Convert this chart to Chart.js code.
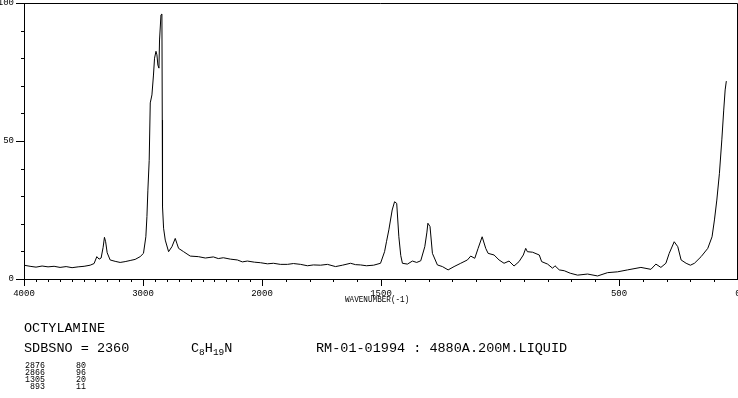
<!DOCTYPE html>
<html><head><meta charset="utf-8">
<script src="https://cdn.jsdelivr.net/npm/chart.js@4.4.0/dist/chart.umd.min.js"></script>
<style>
html,body{margin:0;padding:0;background:#fff;}
#wrap{position:relative;width:738px;height:398px;overflow:hidden;background:#fff;}
canvas{position:absolute;left:0;top:0;}
.t{position:absolute;font-family:"Liberation Mono","DejaVu Sans Mono",monospace;color:#000;white-space:pre;line-height:1;}
.t sub{font-size:70%;vertical-align:-3px;line-height:0;}
</style></head><body>
<div id="wrap">
<canvas id="c" width="738" height="398"></canvas>
<div class="t" style="left:345px;top:296px;font-size:8.5px;transform:scaleX(0.9);transform-origin:0 0">WAVENUMBER(-1)</div>
<div class="t" style="left:24px;top:322px;font-size:13.5px">OCTYLAMINE</div>
<div class="t" style="left:24px;top:342px;font-size:13.5px">SDBSNO = 2360</div>
<div class="t" style="left:191px;top:342px;font-size:13.5px">C<sub>8</sub>H<sub>19</sub>N</div>
<div class="t" style="left:316px;top:342px;font-size:13.5px">RM-01-01994 : 4880A.200M.LIQUID</div>
<div id="peaks"></div>
</div>
<script>
// ---- data ----
const wavenumbers = [
4000,3949,3899,3848,3798,3747,3697,3646,3596,3545,3495,3444,3411,3388,3369,3352,3335,3324,3314,3301,
3276,3234,3192,3150,3108,3066,3024,2996,2976,2967,2959,2948,2939,2925,2912,2903,2891,2883,2875,2866,
2861,2849,2841,2838,2836,2827,2813,2785,2757,2729,2716,2701,2659,2603,2535,2476,2409,2367,2325,2266,
2207,2165,2123,2064,2013,
1977,1952,1923,1893,1868,1838,1809,1784,1754,1725,1691,1662,1628,1607,1586,1561,1531,1502,1485,1477,
1467,1453,1443,1434,1425,1417,1410,1389,1368,1350,1333,1316,1307,1303,1294,1284,1263,1242,1218,1193,
1165,1137,1123,1106,1092,1075,1060,1050,1025,1004,983,962,941,920,902,892,885,863,835,825,
800,779,769,751,730,705,674,632,590,548,506,464,408,366,345,324,303,289,268,253,
239,218,200,183,155,127,109,99,89,78,68,60,54,49
];
const intensities = [
5.0,4.6,4.3,4.7,4.4,4.6,4.2,4.5,4.1,4.4,4.6,5.0,5.6,8.1,7.2,7.6,11.5,15.1,13.5,9.5,
6.9,6.4,6.0,6.3,6.7,7.1,8.1,9.3,15.3,22.6,32.2,43.0,63.8,66.7,73.9,80.0,82.5,81.2,77.5,76.4,
86.6,95.7,96.0,57.6,26.2,18.4,14.1,9.9,11.7,14.7,13.0,11.1,9.9,8.3,8.1,7.6,8.0,7.4,7.7,7.2,
6.9,6.2,6.5,6.1,5.9,
5.5,5.7,5.3,5.3,5.6,5.3,4.8,5.1,5.0,5.3,4.5,5.0,5.7,5.2,5.1,4.8,5.0,5.7,9.9,13.5,
17.8,25.0,28.0,27.4,15.3,8.5,5.7,5.4,6.5,6.0,6.6,11.7,17.0,20.2,19.0,9.3,5.1,4.5,3.3,4.5,
5.7,6.9,8.3,7.5,11.1,15.3,11.1,9.3,8.7,6.9,5.7,6.5,4.7,6.3,8.7,11.1,9.9,9.7,8.7,6.3,
5.4,3.9,4.8,3.3,3.0,2.1,1.4,1.8,1.1,2.3,2.6,3.3,4.2,3.5,5.4,4.2,5.7,9.3,13.5,11.7,
6.9,5.7,5.0,5.7,8.1,11.1,15.3,21.4,28.6,38.3,50.4,61.2,68.5,71.7
];
const xTickWavenumbers = [4000, 3000, 2000, 1500, 500, 0];
const yTickValues = [0, 50, 100];
const peakWavenumbers = ['2876', '2866', '1305', '893'];
const peakIntensities = ['80', '96', '20', '11'];

// the original plot compresses the axis by 2 above 2000 cm-1 (piecewise linear)
function toAxis(wn){ return wn >= 2000 ? (4000 - wn) / 1000 : 2 + (2000 - wn) / 500; }
function fromAxis(u){ return u <= 2 ? 4000 - 1000 * u : 2000 - 500 * (u - 2); }

const points = wavenumbers.map((w, i) => ({x: toAxis(w), y: intensities[i]}));
const minorX = []; for (let w = 4000; w >= 0; w -= 100) minorX.push(toAxis(w));
const minorY = []; for (let v = 0; v <= 100; v += 10) minorY.push(v);

// peak list text
const pk = document.getElementById('peaks');
peakWavenumbers.forEach((w, i) => {
  const top = 362.4 + i * 7;
  const a = document.createElement('div'); a.className = 't';
  a.style.cssText = 'font-size:8.3px;top:' + top + 'px;left:' + (45 - w.length * 4.98) + 'px';
  a.textContent = w; pk.appendChild(a);
  const b = document.createElement('div'); b.className = 't';
  b.style.cssText = 'font-size:8.3px;top:' + top + 'px;left:76px';
  b.textContent = peakIntensities[i]; pk.appendChild(b);
});

const tickFont = {family: '"Liberation Mono", monospace', size: 9};
function fixFit(prop, val){
  return function(s){ s[prop] = val; s.paddingLeft = 0; s.paddingRight = 0; s.paddingTop = 0; s.paddingBottom = 0; };
}
// top/right frame edges and short minor tick marks (positions from the minor scales)
const frame = {
  id: 'frame',
  afterDraw(chart){
    const {ctx, chartArea: a} = chart;
    ctx.save(); ctx.strokeStyle = '#000'; ctx.lineWidth = 1;
    ctx.beginPath();
    ctx.moveTo(Math.round(a.left), Math.round(a.top) + 0.5);
    ctx.lineTo(Math.round(a.right) - 0.5, Math.round(a.top) + 0.5);
    ctx.lineTo(Math.round(a.right) - 0.5, Math.round(a.bottom));
    ctx.stroke();
    const xm = chart.scales.xMinor, ym = chart.scales.yMinor;
    const base = Math.round(chart.scales.x.top), left = Math.round(chart.scales.y.right);
    ctx.beginPath();
    xm.ticks.forEach(t => { const p = Math.round(xm.getPixelForValue(t.value)) + 0.5; ctx.moveTo(p, base); ctx.lineTo(p, base + 3); });
    ym.ticks.forEach(t => { const p = Math.round(ym.getPixelForValue(t.value)) + 0.5; ctx.moveTo(left, p); ctx.lineTo(left - 3, p); });
    ctx.stroke();
    ctx.restore();
  }
};
const gridCommon = { drawOnChartArea: false, color: '#000', tickColor: '#000', lineWidth: 1 };

new Chart(document.getElementById('c'), {
  type: 'line',
  data: { datasets: [{ data: points, borderColor: '#000', borderWidth: 1, pointRadius: 0, tension: 0, fill: false }] },
  options: {
    responsive: false, animation: false, devicePixelRatio: 1,
    layout: { padding: { top: 3, right: 0, left: 0, bottom: 0 } },
    plugins: { legend: { display: false }, tooltip: { enabled: false } },
    scales: {
      x: {
        type: 'linear', min: 0, max: 6, position: 'bottom', weight: 0,
        afterBuildTicks: s => { s.ticks = xTickWavenumbers.map(w => ({value: toAxis(w)})); },
        afterFit: fixFit('height', 119),
        grid: Object.assign({ tickLength: 7 }, gridCommon),
        border: { display: true, color: '#000', width: 1 },
        ticks: { autoSkip: false, maxRotation: 0, color: '#000', font: tickFont, padding: 2,
                 callback: v => String(Math.round(fromAxis(v))) }
      },
      xMinor: {
        type: 'linear', min: 0, max: 6, position: 'bottom', weight: 1,
        afterBuildTicks: s => { s.ticks = minorX.map(v => ({value: v})); },
        afterFit: fixFit('height', 0),
        grid: { display: false },
        border: { display: false },
        ticks: { display: false }
      },
      y: {
        type: 'linear', min: 0, max: 100, position: 'left', weight: 0,
        afterBuildTicks: s => { s.ticks = yTickValues.map(v => ({value: v})); },
        afterFit: fixFit('width', 24),
        grid: Object.assign({ tickLength: 8 }, gridCommon),
        border: { display: true, color: '#000', width: 1 },
        ticks: { color: '#000', font: tickFont, padding: 2 }
      },
      yMinor: {
        type: 'linear', min: 0, max: 100, position: 'left', weight: 1,
        afterBuildTicks: s => { s.ticks = minorY.map(v => ({value: v})); },
        afterFit: fixFit('width', 0),
        grid: { display: false },
        border: { display: false },
        ticks: { display: false }
      }
    }
  },
  plugins: [frame]
});
</script>
</body></html>
